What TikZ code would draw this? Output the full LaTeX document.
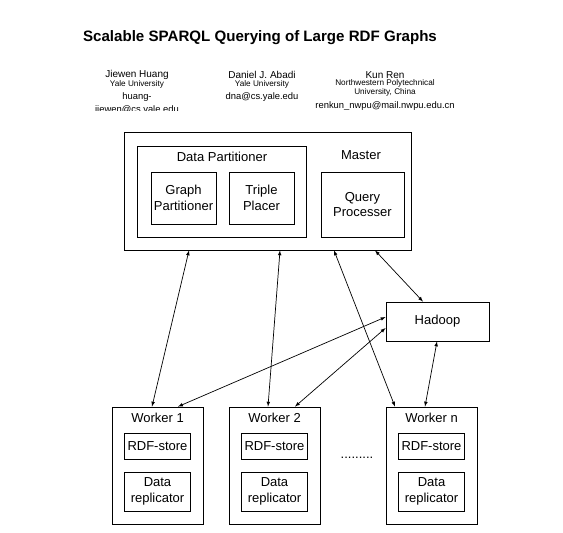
\documentclass[tikz,border=0pt]{standalone}
\usepackage{fontspec}
\setmainfont{Liberation Sans}
\usetikzlibrary{calc}

\newcommand{\boxfont}{\fontsize{13}{15.5}\selectfont}
\tikzset{
  box/.style = {draw, rectangle, line width=0.8pt, inner sep=0pt, align=center, font=\boxfont},
  link/.style = {latex-latex, line width=0.7pt},
  authorname/.style = {font=\fontsize{10}{12}\selectfont},
  authoruni/.style = {font=\fontsize{8.2}{10}\selectfont},
  authormail/.style = {font=\fontsize{9.4}{11}\selectfont},
}

\begin{document}
\begin{tikzpicture}[x=1pt, y=-1pt, every node/.style = {align=center, inner sep=0pt}]
    \useasboundingbox (0,0) rectangle (563,533);

    % title and authors
    \node (title) at (260, 38) [font=\fontsize{15.1}{17}\selectfont\bfseries] {Scalable SPARQL Querying of Large RDF Graphs};

    \node (nameA) at (137, 75) [authorname] {Jiewen Huang};
    \node (uniA) at (137, 84) [authoruni] {Yale University};
    \node (mailA) at (137, 97) [authormail] {huang-};
    \begin{scope}
      \clip (0,0) rectangle (563,110);
      \node (mailAb) at (137, 110.5) [authormail] {jiewen@cs.yale.edu};
    \end{scope}

    \node (nameB) at (262, 75) [authorname] {Daniel J. Abadi};
    \node (uniB) at (262, 84) [authoruni] {Yale University};
    \node (mailB) at (262, 97) [authormail] {dna@cs.yale.edu};

    \node (nameC) at (385, 75) [authorname] {Kun Ren};
    \node (uniC) at (385, 83.5) [authoruni] {Northwestern Polytechnical};
    \node (uniCb) at (385, 92) [authoruni] {University, China};
    \node (mailC) at (385, 106) [authormail] {renkun\_nwpu@mail.nwpu.edu.cn};

    % master
    \node (master) at (268, 191) [box, minimum width=287, minimum height=118] {};
    \node (masterlbl) at (361, 155) [font=\boxfont] {Master};
    \node (partitioner) at (221.5, 191.5) [box, minimum width=169, minimum height=91] {};
    \node (partlbl) at (222, 157) [font=\boxfont] {Data Partitioner};
    \node (graphpart) at (183.5, 198) [box, minimum width=65, minimum height=52] {Graph\\Partitioner};
    \node (placer) at (261.5, 198) [box, minimum width=65, minimum height=52] {Triple\\Placer};
    \node (query) at (362.5, 204.5) [box, minimum width=83, minimum height=65] {Query\\Processer};

    % hadoop
    \node (hadoop) at (437.5, 321.5) [box, minimum width=103, minimum height=39] {Hadoop};

    % workers
    \foreach \x/\n in {157.5/1, 274.5/2, 431.5/n} {
      \node (worker\n) at (\x, 465.5) [box, minimum width=91, minimum height=117] {};
      \node (wlbl\n) at (\x, 418) [font=\boxfont] {Worker \n};
      \node (rdf\n) at (\x, 446) [box, minimum width=66, minimum height=26] {RDF-store};
      \node (repl\n) at (\x, 491.5) [box, minimum width=66, minimum height=39] {Data\\replicator};
    }
    \node (dots) at (357, 458) [font=\boxfont] {.........};

    % links
    \draw [link] ([xshift=-79pt]master.south) -- ([xshift=-5.5pt]worker1.north);
    \draw [link] ([xshift=12pt]master.south) -- ([xshift=-6.5pt]worker2.north);
    \draw [link] ([xshift=66pt]master.south) -- ([xshift=-36.5pt]workern.north);
    \draw [link] ([xshift=107pt]master.south) -- ([xshift=-14.5pt]hadoop.north);
    \draw [link] ([yshift=4.5pt]hadoop.west) -- ([xshift=20.5pt]worker1.north);
    \draw [link] ([yshift=-6.5pt]hadoop.west) -- ([xshift=20.5pt]worker2.north);
    \draw [link] ([xshift=-0.5pt]hadoop.south) -- ([xshift=-6.5pt]workern.north);
\end{tikzpicture}
\end{document}
